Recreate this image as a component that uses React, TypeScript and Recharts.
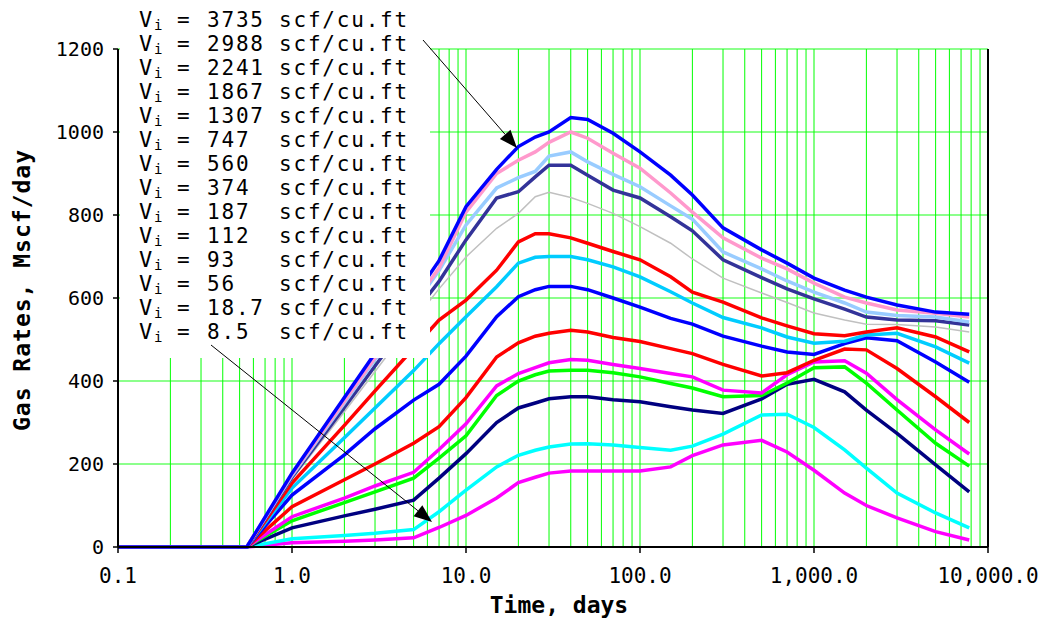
import React from "react";
import { LineChart, Line, XAxis, YAxis, CartesianGrid, ReferenceLine } from "recharts";

// time, days (shared by every series)
const TIME = [0.1, 0.55, 1, 2, 3, 5, 7, 10, 15, 20, 25, 30, 40, 50, 70, 100, 150, 200, 300, 500, 700, 1000, 1500, 2000, 3000, 5000, 7800];

// gas rates, Mscf/day, one array per Vi
const V3735 = [0, 0, 178, 360, 467, 600, 690, 820, 910, 965, 988, 1000, 1035, 1030, 997, 952, 896, 848, 769, 716, 684, 648, 619, 602, 583, 566, 561];
const V2988 = [0, 0, 175, 351, 456, 587, 672, 807, 900, 932, 952, 975, 1000, 985, 949, 913, 853, 807, 745, 696, 670, 636, 602, 588, 571, 563, 554];
const V2241 = [0, 0, 172, 347, 451, 581, 666, 776, 865, 890, 905, 942, 952, 928, 898, 868, 822, 790, 711, 670, 641, 614, 588, 566, 558, 554, 542];
const V1867 = [0, 0, 168, 336, 436, 561, 640, 740, 841, 856, 892, 920, 920, 896, 860, 841, 796, 762, 692, 649, 622, 598, 573, 554, 547, 545, 535];
const V1307 = [0, 0, 163, 326, 423, 545, 622, 699, 768, 804, 844, 855, 842, 828, 804, 772, 732, 694, 648, 612, 589, 564, 547, 537, 536, 530, 518];
const V747 = [0, 0, 154, 293, 376, 479, 547, 595, 667, 735, 755, 755, 745, 732, 712, 692, 651, 614, 590, 552, 533, 514, 509, 518, 528, 506, 470];
const V560 = [0, 0, 142, 263, 335, 425, 490, 555, 627, 684, 698, 700, 700, 692, 675, 651, 615, 588, 553, 528, 506, 491, 496, 511, 515, 482, 443];
const V374 = [0, 0, 125, 222, 285, 354, 392, 460, 555, 603, 620, 628, 628, 620, 600, 578, 551, 537, 508, 484, 470, 464, 490, 504, 497, 446, 397];
const V187 = [0, 0, 97, 162, 200, 250, 290, 360, 458, 492, 508, 515, 522, 518, 505, 495, 478, 466, 440, 412, 420, 450, 477, 475, 430, 362, 300];
const V112 = [0, 0, 73, 118, 147, 180, 235, 297, 388, 418, 432, 444, 452, 450, 440, 430, 418, 410, 378, 371, 415, 446, 449, 419, 355, 282, 224];
const V93 = [0, 0, 63, 107, 133, 166, 214, 268, 365, 400, 415, 424, 426, 426, 420, 410, 394, 383, 362, 365, 395, 432, 434, 395, 330, 250, 195];
const V56 = [0, 0, 46, 75, 91, 113, 166, 225, 300, 335, 347, 357, 362, 362, 355, 350, 338, 330, 322, 357, 392, 404, 374, 330, 274, 198, 133];
const V18_7 = [0, 0, 20, 28, 33, 42, 85, 137, 193, 221, 233, 241, 248, 249, 246, 240, 233, 243, 272, 318, 320, 288, 234, 190, 130, 82, 46];
const V8_5 = [0, 0, 10, 14, 17, 22, 47, 76, 118, 155, 168, 178, 183, 183, 183, 183, 193, 220, 246, 257, 229, 185, 130, 100, 70, 37, 17];

const SERIES = [
  { key: "v3735", label: "3735", values: V3735, color: "#0000ff", width: 3.5 },
  { key: "v2988", label: "2988", values: V2988, color: "#ff99cc", width: 3.5 },
  { key: "v2241", label: "2241", values: V2241, color: "#99ccff", width: 3.5 },
  { key: "v1867", label: "1867", values: V1867, color: "#333399", width: 3.5 },
  { key: "v1307", label: "1307", values: V1307, color: "#c0c0c0", width: 1.5 },
  { key: "v747", label: "747", values: V747, color: "#ff0000", width: 3.5 },
  { key: "v560", label: "560", values: V560, color: "#00ccff", width: 3.5 },
  { key: "v374", label: "374", values: V374, color: "#0000ff", width: 3.5 },
  { key: "v187", label: "187", values: V187, color: "#ff0000", width: 3.5 },
  { key: "v112", label: "112", values: V112, color: "#ff00ff", width: 3.5 },
  { key: "v93", label: "93", values: V93, color: "#00ff00", width: 3.5 },
  { key: "v56", label: "56", values: V56, color: "#000080", width: 3.5 },
  { key: "v18_7", label: "18.7", values: V18_7, color: "#00ffff", width: 3.5 },
  { key: "v8_5", label: "8.5", values: V8_5, color: "#ff00ff", width: 3.5 },
];

const X_TICKS = [0.1, 1, 10, 100, 1000, 10000];
const X_TICK_LABELS = ["0.1", "1.0", "10.0", "100.0", "1,000.0", "10,000.0"];
const Y_TICKS = [0, 200, 400, 600, 800, 1000, 1200];

// log gridlines: 2..9 inside every decade plus the decades
const X_GRID: number[] = [];
[0.1, 1, 10, 100, 1000].forEach((d) => {
  for (let m = 1; m <= 9; m++) if (!(d === 0.1 && m === 1)) X_GRID.push(+(d * m).toPrecision(3));
});

const data = TIME.map((t, i) => {
  const row: Record<string, number> = { t };
  SERIES.forEach((s) => (row[s.key] = s.values[i]));
  return row;
});

const MONO = "DejaVu Sans Mono";

function Arrow({ x1, y1, x2, y2 }: { x1: number; y1: number; x2: number; y2: number }) {
  const a = Math.atan2(y2 - y1, x2 - x1);
  const len = 18, half = 7;
  const bx = x2 - len * Math.cos(a), by = y2 - len * Math.sin(a);
  const px = -Math.sin(a) * half, py = Math.cos(a) * half;
  return (
    <g>
      <line x1={x1} y1={y1} x2={bx} y2={by} stroke="#000" strokeWidth={1} />
      <polygon points={`${x2},${y2} ${bx + px},${by + py} ${bx - px},${by - py}`} fill="#000" />
    </g>
  );
}

export default function App() {
  return (
    <div style={{ position: "absolute", left: 0, top: 0, width: 1041, height: 619, background: "#fff" }}>
      <LineChart width={1041} height={619} data={data} margin={{ top: 49, right: 53, bottom: 22, left: 18 }}>
        <CartesianGrid vertical={false} stroke="#66ff66" strokeWidth={1.5} />
        <CartesianGrid horizontal={false} verticalValues={X_GRID} stroke="#00ff00" strokeWidth={1} />
        <XAxis
          dataKey="t"
          type="number"
          scale="log"
          domain={[0.1, 10000]}
          allowDataOverflow
          ticks={X_TICKS}
          interval={0}
          tickFormatter={(v: number) => X_TICK_LABELS[X_TICKS.indexOf(v)]}
          height={50}
          tickSize={6}
          tickMargin={15}
          axisLine={{ stroke: "#000", strokeWidth: 2 }}
          tickLine={{ stroke: "#000", strokeWidth: 1.5 }}
          tick={{ fontSize: 21, fontFamily: MONO, fill: "#000" }}
        />
        <YAxis
          type="number"
          domain={[0, 1200]}
          ticks={Y_TICKS}
          interval={0}
          width={100}
          tickSize={5}
          tickMargin={9}
          axisLine={{ stroke: "#000", strokeWidth: 2 }}
          tickLine={{ stroke: "#000", strokeWidth: 1.5 }}
          tick={{ fontSize: 20, fontFamily: MONO, fill: "#000" }}
        />
        <ReferenceLine x={10000} stroke="#000" strokeWidth={2} />
        {[...SERIES].reverse().map((s) => (
          <Line
            key={s.key}
            dataKey={s.key}
            type="linear"
            stroke={s.color}
            strokeWidth={s.width}
            dot={false}
            isAnimationActive={false}
          />
        ))}
      </LineChart>
      <svg width={1041} height={619} style={{ position: "absolute", left: 0, top: 0, pointerEvents: "none" }}>
        <rect x={120} y={0} width={310} height={358} fill="#fff" />
        {SERIES.map((s, i) => {
          const y = 27 + i * 24;
          return (
            <g key={s.key} fontFamily={MONO} fill="#000">
              <text x={139} y={y} fontSize={22}>V</text>
              <text x={154} y={y + 3} fontSize={14}>i</text>
              <text x={177} y={y} fontSize={21}>=</text>
              <text x={207} y={y} fontSize={21} letterSpacing={1.8}>{s.label}</text>
              <text x={279} y={y} fontSize={21} letterSpacing={1.8}>scf/cu.ft</text>
            </g>
          );
        })}
        <Arrow x1={423} y1={40} x2={517} y2={148} />
        <Arrow x1={211} y1={345} x2={432} y2={522} />
        <text x={559} y={613} textAnchor="middle" fontFamily={MONO} fontWeight="bold" fontSize={23}>
          Time, days
        </text>
        <text
          transform="translate(30,290) rotate(-90)"
          textAnchor="middle"
          fontFamily={MONO}
          fontWeight="bold"
          fontSize={23}
          letterSpacing={1}
        >
          Gas Rates, Mscf/day
        </text>
      </svg>
    </div>
  );
}
